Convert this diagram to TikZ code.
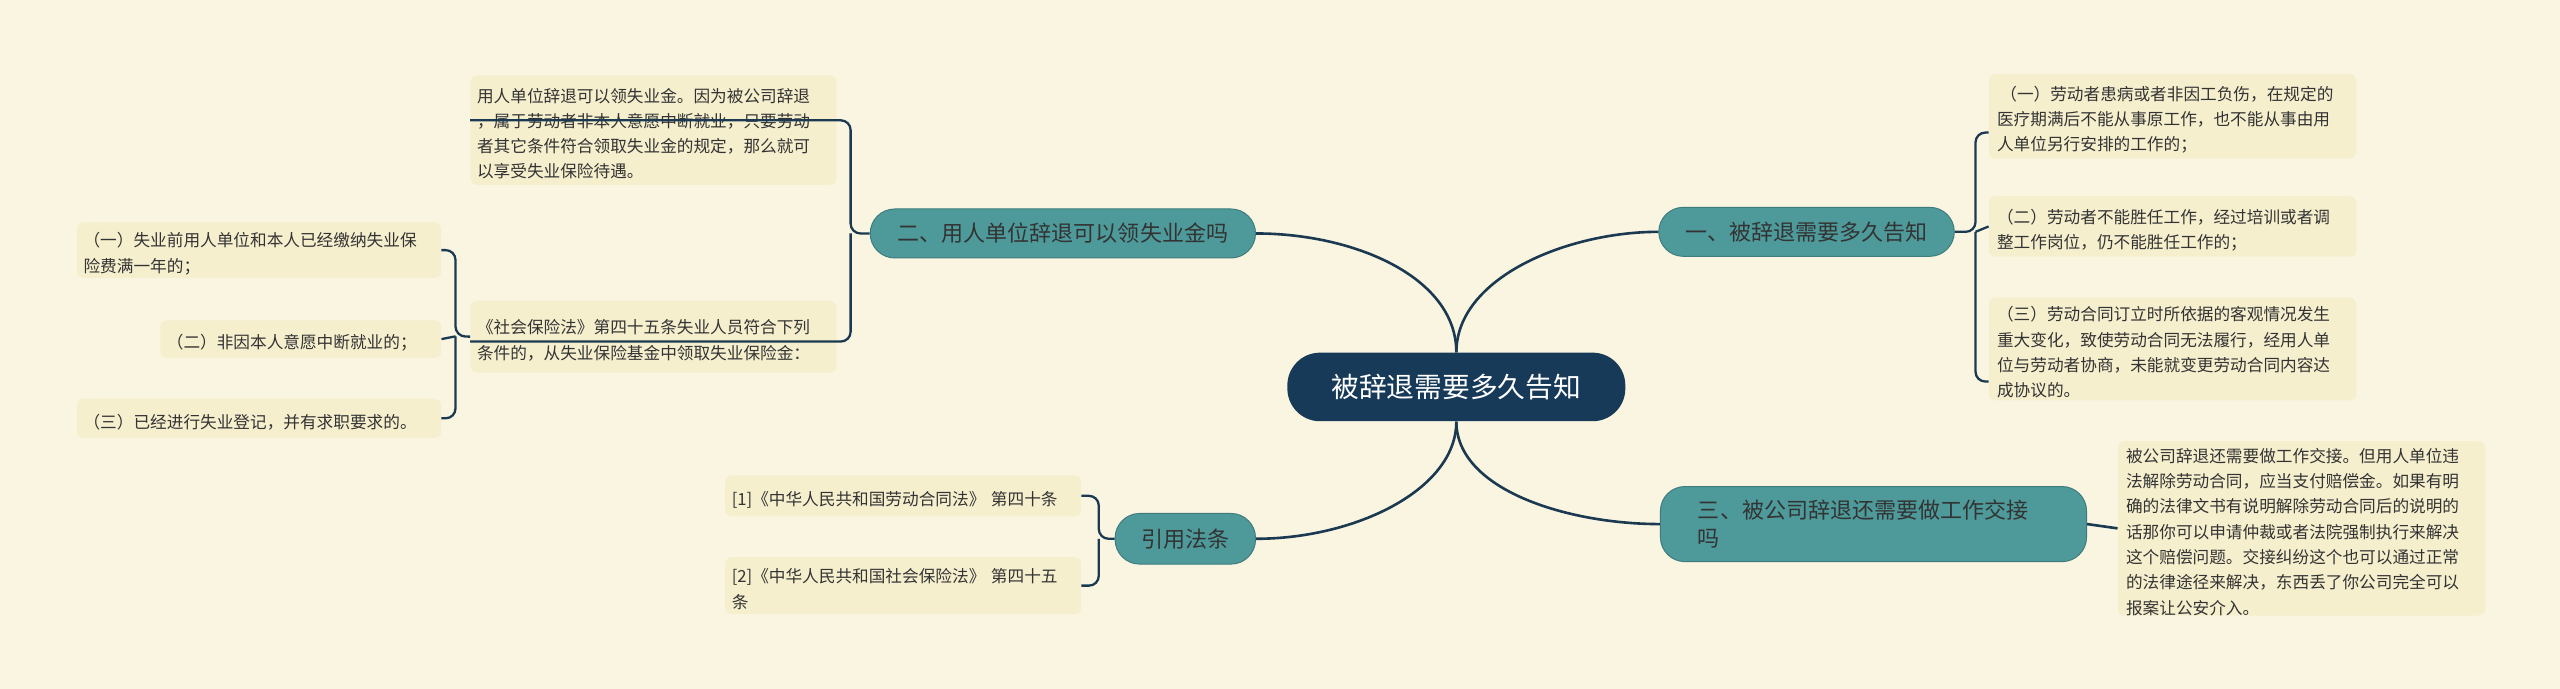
\documentclass[tikz,border=0pt]{standalone}
\usepackage{fontspec}
\setmainfont{Noto Sans CJK SC}
\definecolor{bg}{HTML}{FAF5E1}
\definecolor{leaf}{HTML}{F5EFCE}
\definecolor{teal}{HTML}{4E9A9B}
\definecolor{navy}{HTML}{173A58}
\definecolor{ln}{HTML}{1B3A52}
\definecolor{tx}{HTML}{333333}
\begin{document}
\begin{tikzpicture}[x=1pt,y=-1pt,
  leafbox/.style={fill=leaf,rounded corners=4pt,text=tx,align=left,anchor=north west,inner sep=0pt,font=\fontsize{10.2}{15.5}\selectfont},
  branch/.style={fill=teal,draw=teal!80!black,line width=0.6pt,rounded corners=15pt,text=tx,inner sep=0pt,font=\fontsize{13.5}{17}\selectfont},
  conn/.style={draw=ln,line width=1.6pt},
  brk/.style={draw=ln,line width=1.4pt,rounded corners=6pt}]
\fill[bg] (0,0) rectangle (1568,422);
\useasboundingbox (0,0) rectangle (1568,422);
% center
\node[fill=navy,rounded corners=20pt,text=white,minimum width=207pt,minimum height=42pt,inner sep=0pt,font=\fontsize{17}{20}\selectfont] (c) at (892,237) {被辞退需要多久告知};
% branches
\node[branch,minimum width=181pt,minimum height=30pt] (b1) at (1106.5,142) {一、被辞退需要多久告知};
\node[branch,minimum width=261pt,minimum height=46pt,align=left,text width=215pt] (b3) at (1147.5,321) {三、被公司辞退还需要做工作交接\\吗};
\node[branch,minimum width=236pt,minimum height=30pt] (b2) at (651,143) {二、用人单位辞退可以领失业金吗};
\node[branch,minimum width=86pt,minimum height=31pt] (b4) at (726,330) {引用法条};
% leaves right
\node[leafbox,minimum width=225pt,minimum height=52pt,text width=215pt] (r1) at (1218,45) {\hspace*{2pt}\rule{0pt}{13pt}（一）劳动者患病或者非因工负伤，在规定的\\医疗期满后不能从事原工作，也不能从事由用\\人单位另行安排的工作的；};
\node[leafbox,minimum width=225pt,minimum height=37pt,text width=215pt] (r2) at (1218,120) {\rule{0pt}{13pt}（二）劳动者不能胜任工作，经过培训或者调\\整工作岗位，仍不能胜任工作的；};
\node[leafbox,minimum width=225pt,minimum height=63pt,text width=215pt] (r3) at (1218,182) {\rule{0pt}{13pt}（三）劳动合同订立时所依据的客观情况发生\\重大变化，致使劳动合同无法履行，经用人单\\位与劳动者协商，未能就变更劳动合同内容达\\成协议的。};
\node[leafbox,minimum width=225pt,minimum height=105pt,text width=215pt] (r4) at (1297,270) {\rule{0pt}{13pt}被公司辞退还需要做工作交接。但用人单位违\\法解除劳动合同，应当支付赔偿金。如果有明\\确的法律文书有说明解除劳动合同后的说明的\\话那你可以申请仲裁或者法院强制执行来解决\\这个赔偿问题。交接纠纷这个也可以通过正常\\的法律途径来解决，东西丢了你公司完全可以\\报案让公安介入。};
% leaves left
\node[leafbox,minimum width=224pt,minimum height=67pt,text width=216pt] (l1) at (288,46) {\rule{0pt}{13pt}用人单位辞退可以领失业金。因为被公司辞退\\，属于劳动者非本人意愿中断就业，只要劳动\\者其它条件符合领取失业金的规定，那么就可\\以享受失业保险待遇。};
\node[leafbox,minimum width=224pt,minimum height=44pt,text width=216pt] (l2) at (288,184) {\rule{0pt}{13pt}《社会保险法》第四十五条失业人员符合下列\\条件的，从失业保险基金中领取失业保险金：};
\node[leafbox,minimum width=223pt,minimum height=34pt,text width=215pt] (s1) at (47,136) {\rule{0pt}{13pt}（一）失业前用人单位和本人已经缴纳失业保\\险费满一年的；};
\node[leafbox,minimum width=172pt,minimum height=23pt,text width=164pt] (s2) at (98,196) {\rule{0pt}{13pt}（二）非因本人意愿中断就业的；};
\node[leafbox,minimum width=223pt,minimum height=24pt,text width=215pt] (s3) at (47,244) {\rule{0pt}{13pt}（三）已经进行失业登记，并有求职要求的。};
\node[leafbox,minimum width=218pt,minimum height=25pt,text width=210pt] (q1) at (444,291) {\rule{0pt}{13pt}[1]《中华人民共和国劳动合同法》 第四十条};
\node[leafbox,minimum width=218pt,minimum height=35pt,text width=210pt] (q2) at (444,341) {\rule{0pt}{13pt}[2]《中华人民共和国社会保险法》 第四十五\\条};
% main connectors
\draw[conn] (c.north) ++(0,0) .. controls (892,170) and (960,142) .. (b1.west);
\draw[conn] (c.north) .. controls (892,170) and (830,143) .. (b2.east);
\draw[conn] (c.south) .. controls (892,300) and (960,321) .. (b3.west);
\draw[conn] (c.south) .. controls (892,300) and (830,330) .. (b4.east);
% brackets right
\coordinate (k1) at (1210,142);
\draw[brk] (b1.east) -- (k1) |- ([yshift=-10pt]r1.west);
\draw[brk] (k1) -- (r2.west);
\draw[brk] (k1) |- ([yshift=-20pt]r3.west);
\draw[conn] (b3.east) -- (r4.west);
% brackets left
\coordinate (k2) at (521,143);
\draw[brk] (b2.west) -- (k2) |- ([yshift=6pt]l1.west);
\draw[brk] (k2) |- ([yshift=-3pt]l2.west);
\coordinate (k3) at (279,206);
\draw[brk] (l2.west) -- (k3) |- (s1.east);
\draw[brk] (k3) -- (s2.east);
\draw[brk] (k3) |- (s3.east);
\coordinate (k4) at (673,330);
\draw[brk] (b4.west) -- (k4) |- (q1.east);
\draw[brk] (k4) |- (q2.east);
\end{tikzpicture}
\end{document}
